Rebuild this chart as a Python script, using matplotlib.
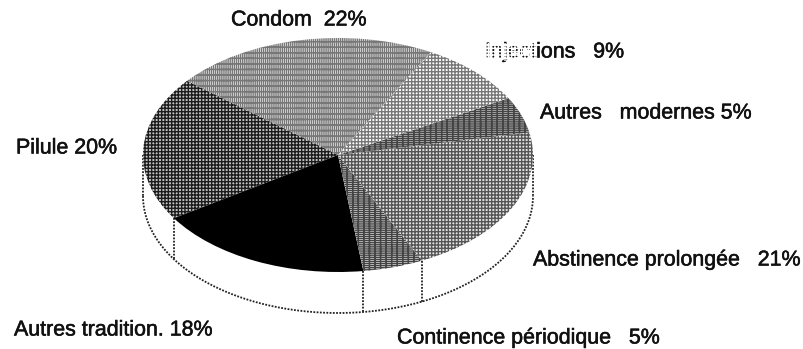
import numpy as np
import matplotlib
matplotlib.use("Agg")
import matplotlib.pyplot as plt
import matplotlib.patheffects as pe
from matplotlib.patches import Rectangle

labels = ["Condom  22%", "Pilule 20%", "Autres tradition. 18%", "Continence périodique   5%",
          "Abstinence prolongée   21%", "Autres   modernes 5%", "Injections   9%"]
values = [22, 20, 18, 5, 21, 5, 9]
faces = ["#f4f4f4", "#c4c4c4", "#000000", "#e4e4e4", "#e4e4e4", "#cccccc", "#ffffff"]
hatches = ["|||||+++", "+++++", None, "-----+++", "+++++", "-----+++", "+++++"]
hatch_colors = ["#777777", "#1c1c1c", "#000000", "#444444", "#555555", "#444444", "#777777"]
label_pos = [(231, 20), (16, 148), (14, 330), (397, 338), (533, 260), (540, 113), (485, 52)]
START = 61.5
W, H = 804, 349
CX, CY, RX, RY, DEPTH = 338, 155, 195, 117, 41
DOT = (0, (1, 0.8))

plt.rcParams["font.family"] = ["Liberation Sans", "DejaVu Sans"]
plt.rcParams["hatch.linewidth"] = 1.0
fig = plt.figure(figsize=(W / 100, H / 100), dpi=100, facecolor="white")
ax = fig.add_axes([0, 0, 1, 1])

d = DEPTH / RY
edges = np.deg2rad(START + np.cumsum(values) * 3.6)
t = np.linspace(np.pi, 2 * np.pi, 200)
ax.plot(np.cos(t), np.sin(t) - d, color="#222222", lw=1.3, ls=DOT, zorder=2)
for a in edges:
    if np.sin(a) < 0:
        ax.plot([np.cos(a)] * 2, [np.sin(a), np.sin(a) - d], color="#222222", lw=1.3,
                ls=DOT, zorder=2)
for s in (-1, 1):
    ax.plot([s, s], [0, -d], color="#222222", lw=1.3, ls=DOT, zorder=2)

top, _ = ax.pie(values, startangle=START, counterclock=True, radius=1, colors=faces,
                wedgeprops=dict(zorder=3))
for w, h, c in zip(top, hatches, hatch_colors):
    w.set_linewidth(0)
    w.set_edgecolor(c)
    if h:
        w.set_hatch(h)

ax.set_aspect("auto")
ax.set_xlim(-CX / RX, (W - CX) / RX)
ax.set_ylim(-(H - CY) / RY, CY / RY)
ax.axis("off")

for lab, (x, y) in zip(labels, label_pos):
    fig.text(x / W, 1 - y / H, lab, fontsize=15.4, color="#111111", va="center", ha="left",
             path_effects=[pe.withStroke(linewidth=0.4, foreground="#111111")])

# speckled scan damage over the start of the "Injections" label
fig.add_artist(Rectangle((484 / W, 1 - 61 / H), 53 / W, 18 / H, transform=fig.transFigure,
                         facecolor="none", edgecolor="white", hatch="+++++", lw=0, zorder=10))
fig.savefig("out.png", dpi=100)
